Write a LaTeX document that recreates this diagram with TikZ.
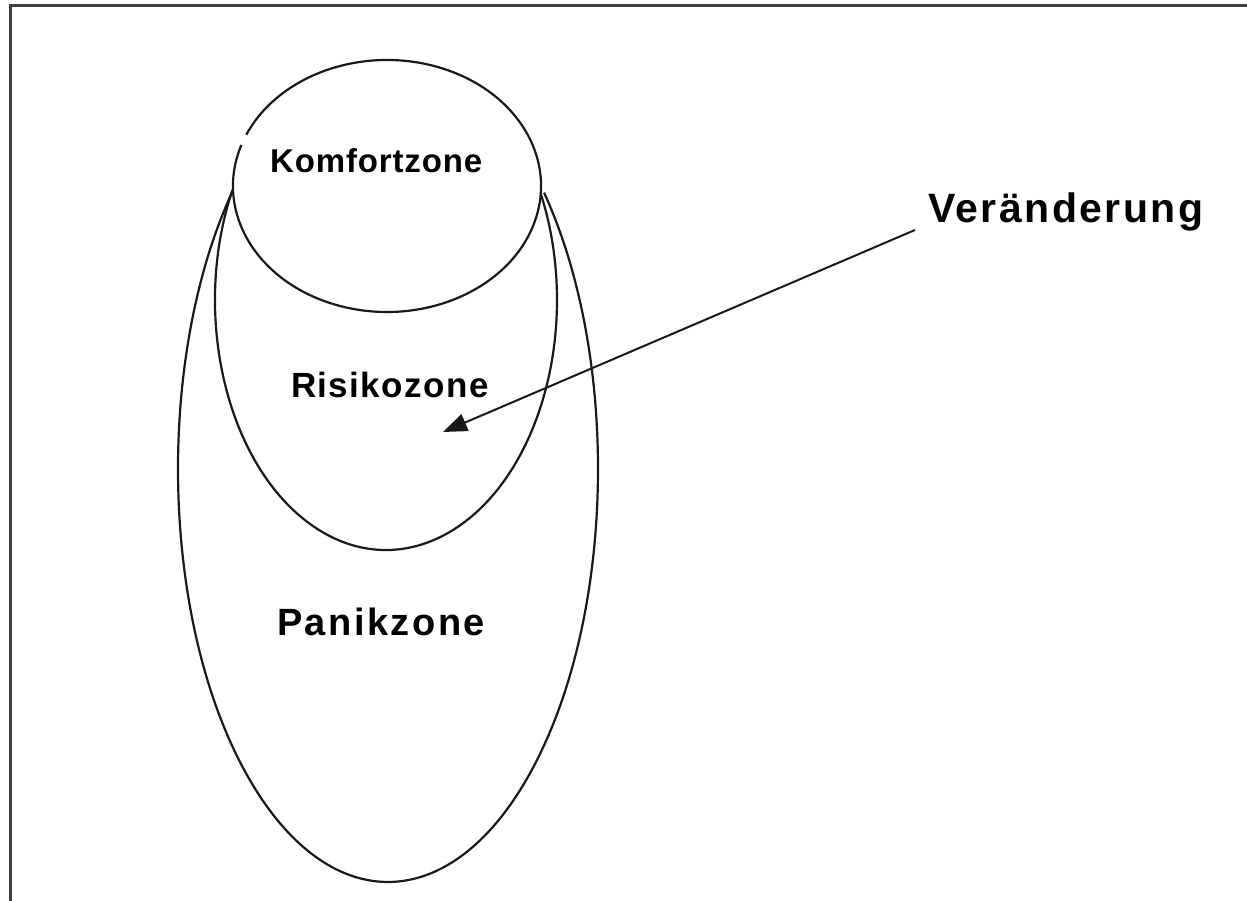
\documentclass[tikz,border=0pt]{standalone}
\usepackage{fontspec}
\setmainfont{Liberation Sans}
\newfontfamily\kfontfam{Liberation Sans}[LetterSpace=2.6]
\newfontfamily\rfontfam{Liberation Sans}[LetterSpace=4]
\newfontfamily\pfontfam{Liberation Sans}[LetterSpace=6.5]
\newfontfamily\vfontfam{Liberation Sans}[LetterSpace=6]
\usetikzlibrary{arrows.meta}
\tikzset{
  zone/.style={line width=2.2pt, draw=black!90},
  lbl/.style={inner sep=0pt, text=black, anchor=base west},
  frameline/.style={line width=3pt, draw=black!75},
  pointer/.style={line width=2pt, draw=black!90, -{Triangle[length=24pt,width=18pt]}}
}
\begin{document}
\begin{tikzpicture}[x=1pt,y=1pt]
\useasboundingbox (0,0) rectangle (1247,901);
% frame (cut off at right and bottom)
\draw[frameline] (10,-20) -- (10,895) -- (1270,895);
% Panikzone outline
\draw[zone] ([shift={(137.5:210 and 413)}]388,432) arc[start angle=137.5, end angle=402, x radius=210, y radius=413];
% Risikozone outline
\draw[zone] ([shift={(153.9:171 and 250)}]386,601) arc[start angle=153.9, end angle=384.8, x radius=171, y radius=250];
% Komfortzone circle (with small gap at left)
\draw[zone] ([shift={(161:154 and 126)}]387,715) arc[start angle=161, end angle=516, x radius=154, y radius=126];
% labels
\node[lbl, font={\kfontfam\bfseries\fontsize{33}{40}\selectfont}] (komfort) at (270,728.3) {Komfortzone};
\node[lbl, font={\rfontfam\bfseries\fontsize{35}{42}\selectfont}] (risiko) at (291,503) {Risikozone};
\node[lbl, font={\pfontfam\bfseries\fontsize{38}{46}\selectfont}] (panik) at (277,265) {Panikzone};
\node[lbl, font={\vfontfam\bfseries\fontsize{41}{49}\selectfont}] (veraenderung) at (928,678) {Veränderung};
% arrow
\coordinate (arrowstart) at (915,671);
\coordinate (arrowtip) at (443,469);
\draw[pointer] (arrowstart) -- (arrowtip);
\end{tikzpicture}
\end{document}
